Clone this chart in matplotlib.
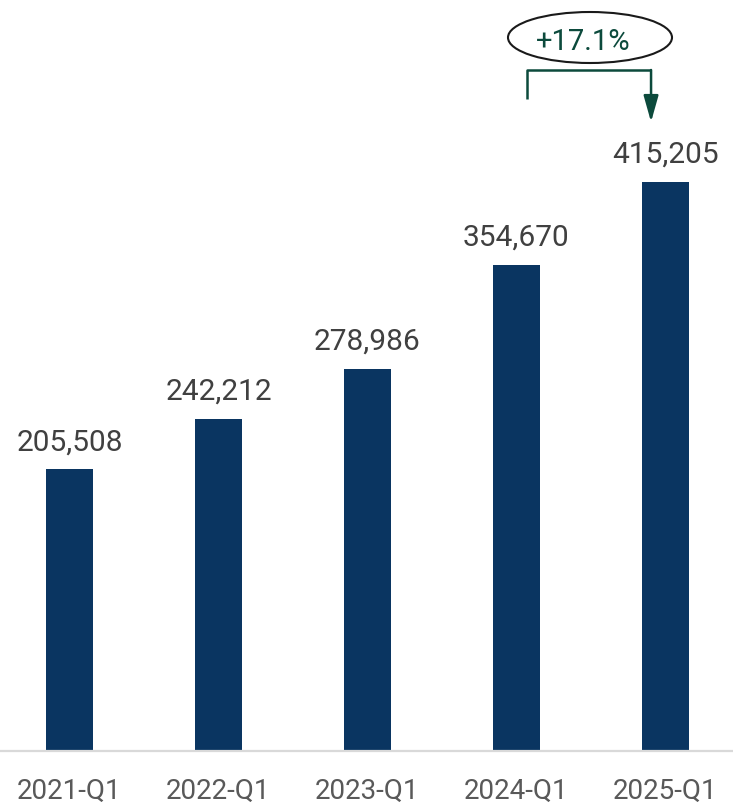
import matplotlib
matplotlib.use("Agg")
import matplotlib.pyplot as plt
from matplotlib.patches import Ellipse

categories = ["2021-Q1", "2022-Q1", "2023-Q1", "2024-Q1", "2025-Q1"]
values = [205508, 242212, 278986, 354670, 415205]

BAR_COLOR = "#0A3561"
GREEN = "#0C4A3C"
plt.rcParams['font.family'] = ['Roboto', 'DejaVu Sans']

W, H = 733, 804
fig = plt.figure(figsize=(W / 100, H / 100), dpi=100)
base_px = 752
ax = fig.add_axes([0, (H - base_px) / H, 1, base_px / H])

x = list(range(len(categories)))
ax.bar(x, values, width=0.315, color=BAR_COLOR, zorder=2)

# scale: 569 px for the top bar height
px_per_unit = 569 / max(values)
ax.set_ylim(0, base_px / px_per_unit)
ax.set_xlim(-69.5 / 149, (W - 69.5) / 149)

for xi, v in zip(x, values):
    ax.annotate(f"{v:,}", (xi, v), xytext=(0, 14.5), textcoords="offset points",
                ha="center", va="baseline", fontsize=21.5, color="#404040")

ax.set_xticks(x)
ax.set_xticklabels(categories, fontsize=20, color="#595959")
ax.tick_params(axis="x", length=0, pad=19)
ax.set_yticks([])
for s in ["top", "right", "left"]:
    ax.spines[s].set_visible(False)
ax.spines["bottom"].set_color("#D9D9D9")
ax.spines["bottom"].set_linewidth(1.6)

# growth annotation
pct = (values[-1] / values[-2] - 1) * 100

def py(p):
    return (base_px - p) / px_per_unit

x_left = x[-2] + 0.07
x_right = x[-1] - 0.097
ax.plot([x_left, x_left, x_right], [py(100), py(71), py(71)], color=GREEN, lw=1.8,
        solid_capstyle="butt", clip_on=False)
ax.annotate("", xy=(x_right, py(123)), xytext=(x_right, py(71)),
            arrowprops=dict(arrowstyle="-|>,head_length=1.6,head_width=0.45",
                            color=GREEN, lw=1.8, shrinkA=0, shrinkB=0),
            annotation_clip=False)

ell = Ellipse((590 / W, (H - 38.5) / H), 164 / W, 51 / H, transform=fig.transFigure,
              facecolor="white", edgecolor="#1A1A1A", lw=1.5, zorder=5)
fig.patches.append(ell)
fig.text(583 / W, (H - 42.5) / H, f"+{pct:.1f}%", ha="center", va="center",
         fontsize=21, color=GREEN, zorder=6)

fig.savefig("out.png", dpi=100)
